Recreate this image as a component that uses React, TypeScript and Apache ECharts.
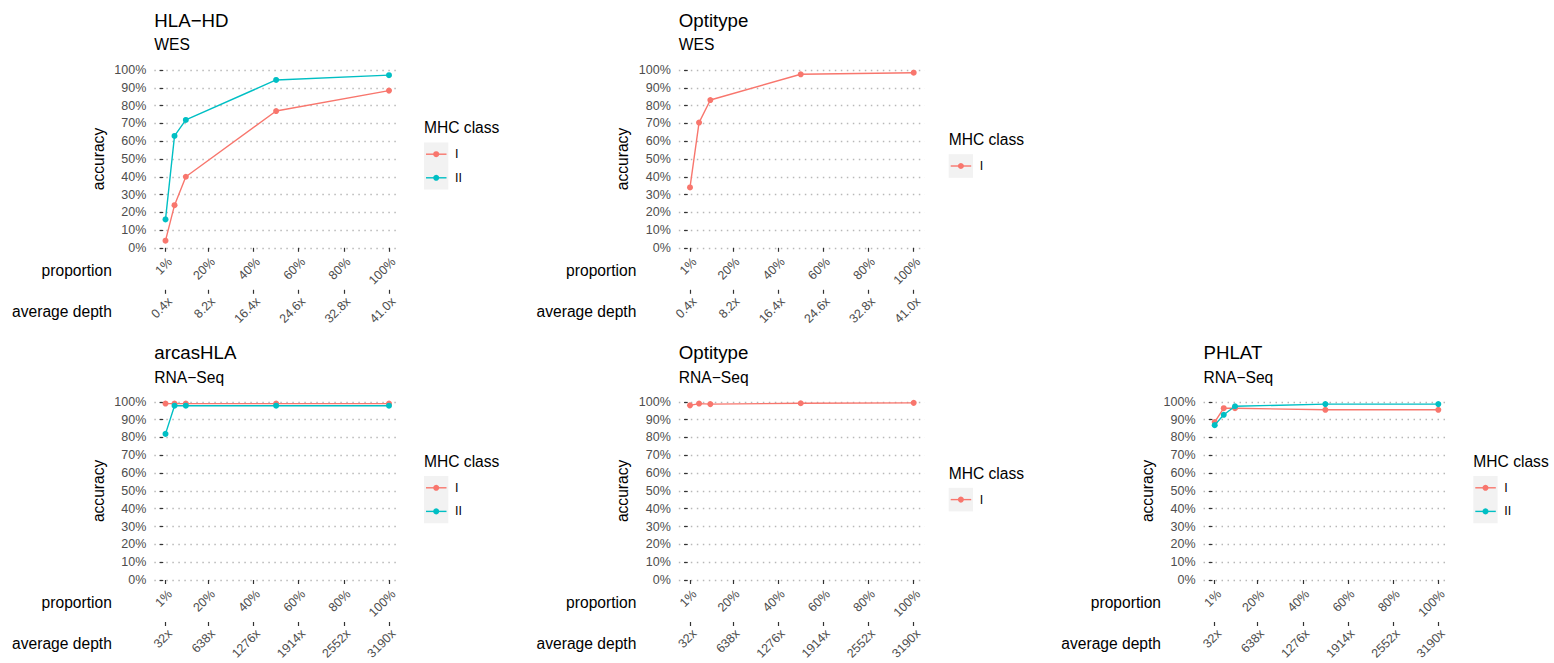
import React, { useEffect, useRef } from 'react';
import * as echarts from 'echarts';

// ---------- data ----------
const proportions = [1, 5, 10, 50, 100];
const propTicks = [1, 20, 40, 60, 80, 100];
const propTickLabels = ['1%', '20%', '40%', '60%', '80%', '100%'];
const wesDepthLabels = ['0.4x', '8.2x', '16.4x', '24.6x', '32.8x', '41.0x'];
const rnaDepthLabels = ['32x', '638x', '1276x', '1914x', '2552x', '3190x'];
const classNames = ['I', 'II'];

const hlahdWesI = [0.04, 0.24, 0.40, 0.77, 0.885];
const hlahdWesII = [0.16, 0.63, 0.72, 0.945, 0.972];
const optitypeWesI = [0.34, 0.705, 0.832, 0.977, 0.986];
const arcasRnaI = [0.99, 0.99, 0.99, 0.99, 0.99];
const arcasRnaII = [0.82, 0.978, 0.978, 0.978, 0.978];
const optitypeRnaI = [0.98, 0.99, 0.987, 0.992, 0.994];
const phlatRnaI = [0.886, 0.964, 0.964, 0.955, 0.955];
const phlatRnaII = [0.869, 0.927, 0.975, 0.987, 0.987];

const panels = [
  { title: 'HLA\u2212HD', subtitle: 'WES', row: 0, col: 0, depth: wesDepthLabels, values: [hlahdWesI, hlahdWesII] },
  { title: 'Optitype', subtitle: 'WES', row: 0, col: 1, depth: wesDepthLabels, values: [optitypeWesI] },
  { title: 'arcasHLA', subtitle: 'RNA\u2212Seq', row: 1, col: 0, depth: rnaDepthLabels, values: [arcasRnaI, arcasRnaII] },
  { title: 'Optitype', subtitle: 'RNA\u2212Seq', row: 1, col: 1, depth: rnaDepthLabels, values: [optitypeRnaI] },
  { title: 'PHLAT', subtitle: 'RNA\u2212Seq', row: 1, col: 2, depth: rnaDepthLabels, values: [phlatRnaI, phlatRnaII] },
];

// ---------- layout / style ----------
const COLORS = ['#F8766D', '#00BFC4'];
const FONT = '"Liberation Sans", Arial, Helvetica, sans-serif';
const colX1 = [165.5, 690, 1214.7];
const colX100 = [389, 913.7, 1438.3];
const rowY100 = [70.2, 401.8];
const rowY0 = [247.8, 580];
const rowTitleY = [20, 352.8];
const rowSubY = [44.5, 377.7];
const rowLegendBoxMid = [166, 499.6];
const XMIN = -3.95;
const XMAX = 104.95;
const KEY_H = 23.6;

function buildOption() {
  const grid: any[] = [];
  const xAxis: any[] = [];
  const yAxis: any[] = [];
  const series: any[] = [];
  const graphic: any[] = [];

  const txt = (x: number, y: number, text: string, fontSize: number, align = 'left', fill = '#000') => ({
    type: 'text', x, y, silent: true,
    style: { text, fontSize, fontFamily: FONT, fill, verticalAlign: 'middle', align },
  });

  panels.forEach((p, gi) => {
    const x1 = colX1[p.col];
    const x100 = colX100[p.col];
    const s = (x100 - x1) / 99;
    const left = x1 - (1 - XMIN) * s;
    const width = (XMAX - XMIN) * s;
    const top = rowY100[p.row];
    const y0 = rowY0[p.row];
    const height = y0 - top;
    grid.push({ left, top, width, height, containLabel: false });

    const tickLabelStyle = {
      customValues: propTicks,
      rotate: 45,
      margin: 5,
      verticalAlign: 'top',
      fontSize: 12.5,
      fontFamily: FONT,
      color: '#4D4D4D',
    };
    const baseX = {
      type: 'value',
      gridIndex: gi,
      min: XMIN,
      max: XMAX,
      position: 'bottom',
      axisLine: { show: false },
      splitLine: { show: false },
      axisTick: { show: true, length: 4, customValues: propTicks, lineStyle: { color: '#333', width: 1.2 } },
    };
    xAxis.push({
      ...baseX,
      offset: 2.5,
      axisLabel: { ...tickLabelStyle, formatter: (v: number) => propTickLabels[propTicks.indexOf(v)] ?? '' },
    });
    xAxis.push({
      ...baseX,
      offset: 42,
      axisLabel: { ...tickLabelStyle, formatter: (v: number) => p.depth[propTicks.indexOf(v)] ?? '' },
    });
    yAxis.push({
      type: 'value',
      gridIndex: gi,
      min: 0,
      max: 1,
      interval: 0.1,
      axisLine: { show: false },
      axisTick: { show: true, length: 3.7, lineStyle: { color: '#333', width: 1.2 } },
      axisLabel: {
        margin: 8,
        fontSize: 12.5,
        fontFamily: FONT,
        color: '#4D4D4D',
        formatter: (v: number) => Math.round(v * 100) + '%',
      },
      splitLine: { show: true, lineStyle: { type: [1.5, 4.5], color: '#B8B8B8', width: 1.3 } },
      name: 'accuracy',
      nameLocation: 'middle',
      nameGap: 48,
      nameTextStyle: { fontSize: 15.6, color: '#000', fontFamily: FONT },
    });

    const names = classNames.slice(0, p.values.length);
    p.values.forEach((vals, si) => {
      series.push({
        type: 'line',
        name: names[si],
        xAxisIndex: gi * 2,
        yAxisIndex: gi,
        data: proportions.map((x, i) => [x, vals[i]]),
        symbol: 'circle',
        symbolSize: 6,
        showSymbol: true,
        color: COLORS[si],
        lineStyle: { width: 1.4, color: COLORS[si] },
        itemStyle: { color: COLORS[si] },
        z: 3 + si,
      });
    });

    // titles
    graphic.push(txt(left, rowTitleY[p.row], p.title, 18.7));
    graphic.push(txt(left, rowSubY[p.row], p.subtitle, 15.6));

    // secondary x axis titles
    graphic.push(txt(left - 42.5, y0 + 22.4, 'proportion', 15.6, 'right'));
    graphic.push(txt(left - 42.5, y0 + 63.3, 'average depth', 15.6, 'right'));

    // legend (ggplot style)
    const n = names.length;
    const boxTop = rowLegendBoxMid[p.row] - (KEY_H * n) / 2;
    const boxLeft = x100 + 35;
    graphic.push(txt(boxLeft, boxTop - 14.5, 'MHC class', 15.6));
    graphic.push({
      type: 'rect', silent: true,
      shape: { x: boxLeft, y: boxTop, width: 24.3, height: KEY_H * n },
      style: { fill: '#F2F2F2' },
    });
    names.forEach((nm, k) => {
      const cy = boxTop + KEY_H * (k + 0.5);
      graphic.push({
        type: 'line', silent: true,
        shape: { x1: boxLeft + 2, y1: cy, x2: boxLeft + 22.5, y2: cy },
        style: { stroke: COLORS[k], lineWidth: 1.4 },
      });
      graphic.push({
        type: 'circle', silent: true,
        shape: { cx: boxLeft + 12.2, cy, r: 3 },
        style: { fill: COLORS[k] },
      });
      graphic.push(txt(boxLeft + 31, cy, nm, 12.5));
    });
  });

  return {
    animation: false,
    backgroundColor: '#fff',
    textStyle: { fontFamily: FONT },
    grid,
    xAxis,
    yAxis,
    series,
    graphic,
  };
}

export default function App() {
  const ref = useRef<HTMLDivElement>(null);
  useEffect(() => {
    if (!ref.current) return;
    const chart = echarts.init(ref.current, undefined, { renderer: 'svg' });
    chart.setOption(buildOption() as any);
    return () => chart.dispose();
  }, []);
  return (
    <div
      ref={ref}
      style={{ position: 'fixed', left: 0, top: 0, width: 1554, height: 663, background: '#fff' }}
    />
  );
}
